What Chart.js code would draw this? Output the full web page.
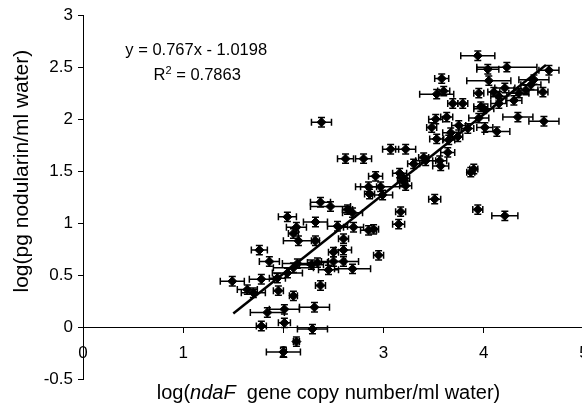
<!DOCTYPE html>
<html lang="en">
<head>
  <meta charset="UTF-8" />
  <title>Nodularin vs ndaF copy number</title>
  <script src="https://cdn.jsdelivr.net/npm/chart.js"></script>
  <style>
    html, body { margin: 0; padding: 0; background: #fff; overflow: hidden; }
    #wrap { width: 600px; height: 406px; }
  </style>
</head>
<body>
  <div id="wrap"><canvas id="chart"></canvas></div>

  <script>
    // log(ndaF gene copy number/ml water)
    const geneCopies = [
      1.49, 1.64, 1.70, 1.76, 1.86, 1.78, 1.94, 1.95, 2.04, 2.10,
      2.14, 2.10, 1.84, 2.01, 2.31, 1.78, 2.01, 2.29, 2.13, 2.00,
      2.37, 2.04, 2.13, 2.32, 2.10, 2.15, 2.32, 2.54, 2.70, 2.60,
      2.50, 2.60, 2.34, 2.50, 2.60, 2.69, 2.37, 2.47, 2.64, 2.69,
      2.85, 2.90, 2.95, 2.38, 2.62, 2.80, 2.92, 2.85, 2.97, 2.86,
      3.16, 3.19, 3.22, 3.51, 3.17, 3.15, 3.30, 3.42, 3.57, 3.07,
      3.22, 3.40, 3.64, 3.53, 3.48, 3.52, 3.63, 3.53, 3.60, 3.58,
      3.94, 4.04, 4.23, 4.65, 4.05, 4.50, 4.47, 4.42, 4.59, 3.95,
      4.10, 4.21, 4.15, 4.35, 4.30, 3.69, 3.79, 3.97, 4.00, 4.15,
      3.95, 4.34, 4.60, 3.75, 3.84, 3.67, 4.01, 4.13, 3.65, 3.74,
      3.87, 3.90, 3.94, 4.21, 3.56, 2.99, 2.28, 2.45, 3.20
    ];
    // log(pg nodularin/ml water)
    const nodularin = [
      0.44, 0.36, 0.33, 0.74, 0.63, 0.46, 0.47, 0.35, 0.52, 0.57,
      0.61, 0.30, 0.14, 0.17, 0.19, 0.01, 0.04, -0.02, -0.14, -0.24,
      0.40, 1.06, 0.96, 1.01, 0.90, 0.83, 0.83, 0.97, 0.96, 0.85,
      0.72, 0.74, 0.62, 0.63, 0.63, 0.56, 1.20, 1.16, 1.13, 1.10,
      0.93, 0.94, 0.69, 1.97, 1.62, 1.62, 1.45, 1.35, 1.35, 1.28,
      1.48, 1.41, 1.36, 1.23, 1.11, 0.99, 1.57, 1.60, 1.55, 1.71,
      1.71, 1.63, 1.68, 1.81, 1.92, 2.00, 2.02, 2.24, 2.27, 2.39,
      2.61, 2.48, 2.50, 2.47, 2.37, 2.38, 2.33, 2.28, 2.26, 2.25,
      2.26, 2.30, 2.22, 2.25, 2.18, 2.15, 2.15, 2.12, 2.10, 2.15,
      2.01, 2.02, 1.98, 1.94, 1.91, 1.87, 1.92, 1.88, 1.80, 1.83,
      1.49, 1.52, 1.13, 1.07, 1.60, 1.27, 0.60, 0.55, 1.43
    ];
    // horizontal error (± on the log copy number)
    const geneErr = [
      0.12, 0.10, 0.12, 0.08, 0.10, 0.12, 0.08, 0.05, 0.15, 0.20,
      0.15, 0.04, 0.17, 0.15, 0.15, 0.05, 0.06, 0.15, 0.03, 0.17,
      0.05, 0.09, 0.10, 0.12, 0.05, 0.15, 0.04, 0.10, 0.10, 0.05,
      0.05, 0.08, 0.10, 0.12, 0.15, 0.18, 0.10, 0.20, 0.05, 0.10,
      0.08, 0.05, 0.05, 0.10, 0.08, 0.08, 0.07, 0.08, 0.25, 0.05,
      0.07, 0.05, 0.06, 0.06, 0.05, 0.06, 0.06, 0.10, 0.08, 0.08,
      0.10, 0.05, 0.07, 0.07, 0.05, 0.07, 0.06, 0.17, 0.06, 0.07,
      0.17, 0.11, 0.30, 0.10, 0.22, 0.15, 0.10, 0.12, 0.05, 0.05,
      0.06, 0.10, 0.08, 0.10, 0.08, 0.05, 0.05, 0.07, 0.10, 0.08,
      0.10, 0.15, 0.15, 0.07, 0.06, 0.08, 0.08, 0.13, 0.06, 0.05,
      0.04, 0.04, 0.05, 0.13, 0.07, 0.10, 0.12, 0.10, 0.06
    ];
    const nodErr = 0.045;

    // trend line end points (y = 0.767x - 1.0198)
    const fitX = [1.5, 4.62];
    const fitY = [0.13, 2.52];

    const eqText = 'y = 0.767x - 1.0198';
    const r2Value = '0.7863';
    const yTitle = 'log(pg nodularin/ml water)';

    const FONT = "'Liberation Sans', Arial, sans-serif";

    const points = geneCopies.map((x, i) => ({ x: x, y: nodularin[i], e: geneErr[i] }));
    const fitLine = fitX.map((x, i) => ({ x: x, y: fitY[i] }));

    const errorBars = {
      id: 'errorBars',
      beforeDatasetsDraw(chart) {
        const { ctx, scales: { x, y } } = chart;
        ctx.save();
        ctx.strokeStyle = '#000';
        ctx.lineWidth = 1.5;
        points.forEach(p => {
          const px = x.getPixelForValue(p.x);
          const py = y.getPixelForValue(p.y);
          const x0 = x.getPixelForValue(p.x - p.e);
          const x1 = x.getPixelForValue(p.x + p.e);
          const y0 = y.getPixelForValue(p.y - nodErr);
          const y1 = y.getPixelForValue(p.y + nodErr);
          ctx.beginPath();
          ctx.moveTo(x0, py); ctx.lineTo(x1, py);
          ctx.moveTo(x0, py - 3.5); ctx.lineTo(x0, py + 3.5);
          ctx.moveTo(x1, py - 3.5); ctx.lineTo(x1, py + 3.5);
          ctx.moveTo(px, y0); ctx.lineTo(px, y1);
          ctx.moveTo(px - 3.5, y0); ctx.lineTo(px + 3.5, y0);
          ctx.moveTo(px - 3.5, y1); ctx.lineTo(px + 3.5, y1);
          ctx.stroke();
        });
        ctx.restore();
      }
    };

    const labels = {
      id: 'labels',
      afterDraw(chart) {
        const { ctx, chartArea, scales: { x, y } } = chart;
        ctx.save();
        ctx.fillStyle = '#000';
        ctx.textBaseline = 'middle';

        // equation + R²
        ctx.font = `16.5px ${FONT}`;
        ctx.textAlign = 'center';
        ctx.fillText(eqText, x.getPixelForValue(1.13), y.getPixelForValue(2.66));
        const rMain = 'R', rRest = ' = ' + r2Value;
        ctx.textAlign = 'left';
        const wR = ctx.measureText(rMain).width;
        const wRest = ctx.measureText(rRest).width;
        ctx.font = `11px ${FONT}`;
        const w2 = ctx.measureText('2').width;
        const total = wR + w2 + wRest;
        let cx = x.getPixelForValue(1.14) - total / 2;
        const cy = y.getPixelForValue(2.42);
        ctx.font = `16.5px ${FONT}`;
        ctx.fillText(rMain, cx, cy);
        cx += wR;
        ctx.font = `11px ${FONT}`;
        ctx.fillText('2', cx, cy - 5);
        cx += w2;
        ctx.font = `16.5px ${FONT}`;
        ctx.fillText(rRest, cx, cy);

        // y axis title (sits a bit above the axis middle)
        ctx.save();
        ctx.translate(22, y.getPixelForValue(1.5));
        ctx.rotate(-Math.PI / 2);
        ctx.textAlign = 'center';
        ctx.font = `21px ${FONT}`;
        ctx.fillText(yTitle, 0, 0);
        ctx.restore();

        // x axis title with italic gene name
        const parts = [
          ['log(', 'normal'],
          ['ndaF', 'italic'],
          ['  gene copy number/ml water)', 'normal']
        ];
        ctx.textAlign = 'left';
        let width = 0;
        parts.forEach(([t, s]) => { ctx.font = `${s} 20px ${FONT}`; width += ctx.measureText(t).width; });
        let tx = x.getPixelForValue(2.45) - width / 2;
        const ty = chartArea.bottom + 14;
        parts.forEach(([t, s]) => {
          ctx.font = `${s} 20px ${FONT}`;
          ctx.fillText(t, tx, ty);
          tx += ctx.measureText(t).width;
        });
        ctx.restore();
      }
    };

    const axisGrid = { drawOnChartArea: false, drawTicks: true, tickLength: 5, color: '#000' };

    new Chart(document.getElementById('chart'), {
      type: 'scatter',
      data: {
        datasets: [
          {
            data: points,
            pointStyle: 'rectRot',
            pointRadius: 4.5,
            backgroundColor: '#000',
            borderColor: '#000'
          },
          {
            type: 'line',
            data: fitLine,
            borderColor: '#000',
            borderWidth: 2.5,
            pointRadius: 0,
            showLine: true
          }
        ]
      },
      options: {
        responsive: true,
        maintainAspectRatio: false,
        animation: false,
        layout: { padding: { top: 12, right: 16, bottom: 27, left: 0 } },
        plugins: { legend: { display: false }, tooltip: { enabled: false } },
        scales: {
          x: {
            type: 'linear',
            min: 0,
            max: 5,
            position: { y: 0 },
            ticks: { stepSize: 1, color: '#000', padding: 11, font: { family: FONT, size: 17 } },
            grid: axisGrid,
            border: { color: '#000', width: 1 }
          },
          y: {
            min: -0.5,
            max: 3,
            ticks: { stepSize: 0.5, color: '#000', padding: 5, font: { family: FONT, size: 17 }, callback: v => String(v) },
            grid: axisGrid,
            border: { color: '#000', width: 1 },
            afterFit: s => { s.width = 83; }
          }
        }
      },
      plugins: [errorBars, labels]
    });
  </script>
</body>
</html>
